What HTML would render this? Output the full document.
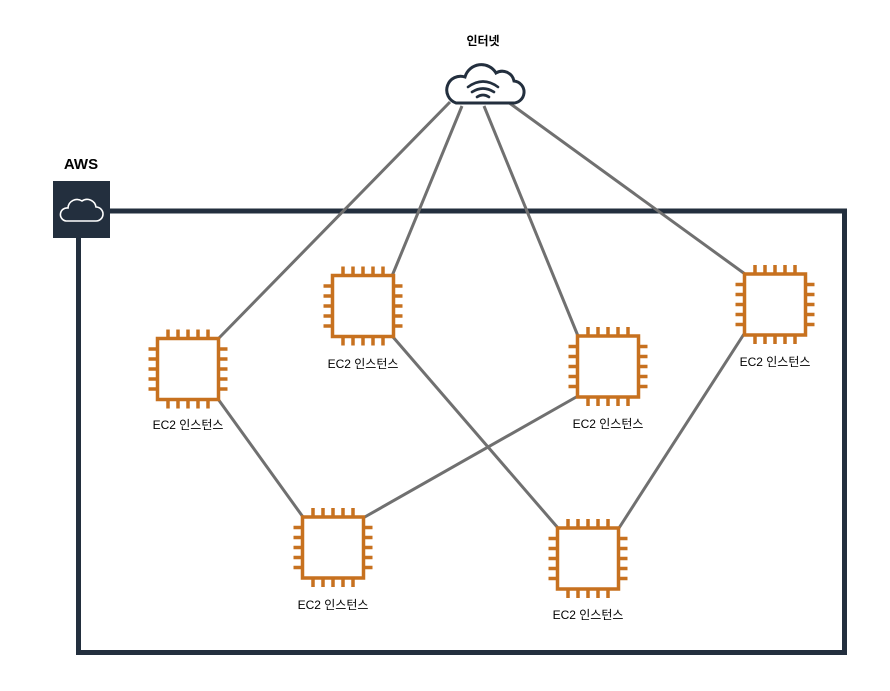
<!DOCTYPE html>
<html><head><meta charset="utf-8"><style>
body{margin:0;background:#fff;}
svg text{font-family:"Liberation Sans","Noto Sans CJK KR",sans-serif;font-size:12px;fill:#000;text-anchor:middle;}
</style></head><body>
<svg width="890" height="686" viewBox="0 0 890 686" xmlns="http://www.w3.org/2000/svg">
<defs>
<g id="chip" fill="none" stroke="#c7711f" stroke-width="3.5">
<rect x="0" y="0" width="61" height="61"/>
<path d="M10.5 0v-9M20.5 0v-9M30.5 0v-9M40.5 0v-9M50.5 0v-9
M10.5 61v9M20.5 61v9M30.5 61v9M40.5 61v9M50.5 61v9
M0 10.5h-9M0 20.5h-9M0 30.5h-9M0 40.5h-9M0 50.5h-9
M61 10.5h9M61 20.5h9M61 30.5h9M61 40.5h9M61 50.5h9"/>
</g>
</defs>
<rect x="78.5" y="211" width="766" height="441.5" fill="none" stroke="#232f3e" stroke-width="5"/>
<rect x="53" y="181" width="57" height="57" fill="#232f3e"/>
<path d="M66 221 h30 a7 7 0 0 0 0-14 a9 9 0 0 0 -14-6 a9 9 0 0 0 -14 7 a6.5 6.5 0 0 0 -2 13z" fill="none" stroke="#fff" stroke-width="1.6"/>
<text x="81" y="169" style="font-weight:bold;font-size:15px">AWS</text>
<g stroke="#707070" stroke-width="3" fill="none">
<line x1="450" y1="102" x2="219" y2="338"/>
<line x1="462" y1="106" x2="392" y2="276"/>
<line x1="484" y1="106" x2="578" y2="336"/>
<line x1="508" y1="102" x2="745" y2="274"/>
<line x1="218" y1="399" x2="303" y2="517"/>
<line x1="393" y1="337" x2="558" y2="528"/>
<line x1="578" y1="396" x2="363" y2="518"/>
<line x1="744" y1="334" x2="619" y2="528"/>
</g>
<path d="M456 103 h56 a11 11 0 0 0 2-22 a12 12 0 0 0 -18-8 a17 17 0 0 0 -31 4 a13 13 0 0 0 -9 26z" fill="#fff" stroke="#232f3e" stroke-width="3"/>
<g fill="none" stroke="#232f3e" stroke-width="2.6" stroke-linecap="round">
<path d="M468 87 q15-11 30 0"/><path d="M472 92 q11-7 22 0"/><path d="M477 97 q6-4 12 0"/>
</g>
<text x="483" y="45" style="font-weight:bold">인터넷</text>
<use href="#chip" x="157.5" y="338.5"/>
<use href="#chip" x="332.5" y="275.5"/>
<use href="#chip" x="577.5" y="336"/>
<use href="#chip" x="744.5" y="274"/>
<use href="#chip" x="302.5" y="517"/>
<use href="#chip" x="557.5" y="528"/>
<text x="188" y="429">EC2 인스턴스</text>
<text x="363" y="368">EC2 인스턴스</text>
<text x="608" y="428">EC2 인스턴스</text>
<text x="775" y="366">EC2 인스턴스</text>
<text x="333" y="609">EC2 인스턴스</text>
<text x="588" y="619">EC2 인스턴스</text>
</svg>
</body></html>
